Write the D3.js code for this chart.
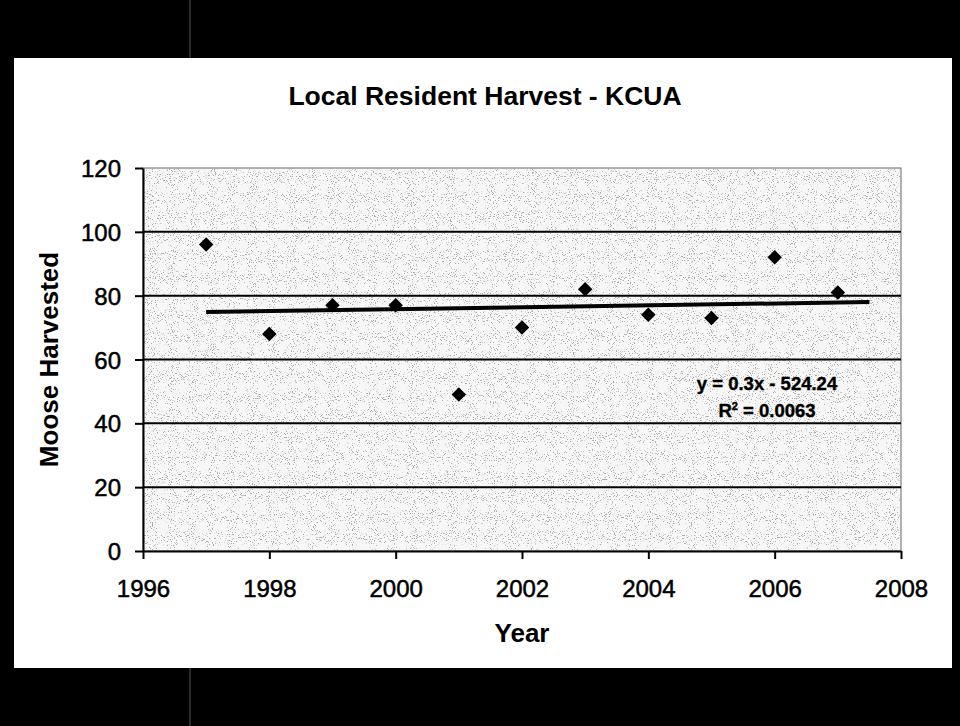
<!DOCTYPE html>
<meta charset="utf-8">
<style>
    body { margin: 0; background: #000; }
    .axis text { font: 24px "Liberation Sans", Arial, sans-serif; fill: #000; stroke: #000; stroke-width: 0.5px; }
    .axis path, .axis line { stroke: #000; stroke-width: 2px; }
    .grid line { stroke: #000; stroke-width: 2px; }
    .title { font: bold 26.5px "Liberation Sans", Arial, sans-serif; }
    .axis-title { font: bold 26px "Liberation Sans", Arial, sans-serif; }
    .eq { font: bold 18.5px "Liberation Sans", Arial, sans-serif; stroke: #000; stroke-width: 0.4px; }
</style>
<body>
<script src="https://cdn.jsdelivr.net/npm/d3@7"></script>
<script>
    // data
    var years = [1997, 1998, 1999, 2000, 2001, 2002, 2003, 2004, 2005, 2006, 2007];
    var harvested = [96, 68, 77, 77, 49, 70, 82, 74, 73, 92, 81];
    var xTicks = [1996, 1998, 2000, 2002, 2004, 2006, 2008];
    var yTicks = [0, 20, 40, 60, 80, 100, 120];
    // linear trendline, as printed on the chart
    var trendSlope = 0.3, trendIntercept = -524.24;
    var trendYears = [1997, 2007.5];
    var eqLine1 = "y = 0.3x - 524.24";
    var r2Value = "0.0063";

    var W = 960, H = 726;
    var margin = {top: 168, right: 59, bottom: 175, left: 143},
        width = W - margin.left - margin.right,
        height = H - margin.top - margin.bottom;

    var svg = d3.select("body").append("svg")
        .attr("width", W)
        .attr("height", H);

    // speckled grey fill like the scanned original
    var defs = svg.append("defs");
    var f = defs.append("filter").attr("id", "speckle")
        .attr("x", 0).attr("y", 0).attr("width", 1).attr("height", 1);
    f.append("feTurbulence")
        .attr("type", "fractalNoise")
        .attr("baseFrequency", 0.95)
        .attr("numOctaves", 2)
        .attr("seed", 7);
    f.append("feColorMatrix")
        .attr("type", "matrix")
        .attr("values", "0 0 0 0 0.4  0 0 0 0 0.4  0 0 0 0 0.4  -9 0 0 0 3.55");

    // black page + white panel
    svg.append("rect").attr("width", W).attr("height", H).attr("fill", "#000");
    svg.append("rect")
        .attr("x", 14).attr("y", 58)
        .attr("width", 938).attr("height", 610)
        .attr("fill", "#fff");
    // faint scanner streak
    svg.append("line").attr("x1", 190).attr("x2", 190).attr("y1", 0).attr("y2", 58)
        .attr("stroke", "#555").attr("stroke-width", 1);
    svg.append("line").attr("x1", 190).attr("x2", 190).attr("y1", 668).attr("y2", H)
        .attr("stroke", "#555").attr("stroke-width", 1);

    var g = svg.append("g")
        .attr("transform", "translate(" + margin.left + "," + margin.top + ")");

    var x = d3.scaleLinear().domain([1996, 2008]).range([0, width]);
    var y = d3.scaleLinear().domain([0, 120]).range([height, 0]);

    // plot area
    g.append("rect")
        .attr("width", width).attr("height", height)
        .attr("fill", "#f7f7f7")
        .attr("stroke", "#666").attr("stroke-width", 1);
    g.append("rect")
        .attr("width", width).attr("height", height)
        .attr("filter", "url(#speckle)");

    // gridlines
    g.append("g").attr("class", "grid")
        .selectAll("line")
        .data(yTicks.filter(function(d) { return d > 0 && d < 120; }))
        .enter().append("line")
        .attr("x1", 0).attr("x2", width)
        .attr("y1", function(d) { return y(d); })
        .attr("y2", function(d) { return y(d); });

    // axes
    g.append("g")
        .attr("class", "axis")
        .attr("transform", "translate(0," + height + ")")
        .call(d3.axisBottom(x).tickValues(xTicks).tickFormat(d3.format("d"))
            .tickSize(8).tickSizeOuter(0).tickPadding(21));

    g.append("g")
        .attr("class", "axis")
        .call(d3.axisLeft(y).tickValues(yTicks).tickFormat(d3.format("d"))
            .tickSize(8).tickSizeOuter(0).tickPadding(14))
        .selectAll("text").attr("dy", "0.36em");

    // trendline
    var trend = d3.line()
        .x(function(d) { return x(d); })
        .y(function(d) { return y(trendSlope * d + trendIntercept); });
    g.append("path")
        .datum(trendYears)
        .attr("fill", "none")
        .attr("stroke", "#000")
        .attr("stroke-width", 4)
        .attr("d", trend);

    // markers
    var diamond = d3.symbol().type(d3.symbolSquare).size(105);
    g.selectAll(".pt")
        .data(years)
        .enter().append("path")
        .attr("class", "pt")
        .attr("d", diamond)
        .attr("fill", "#000")
        .attr("transform", function(d, i) {
            return "translate(" + x(d) + "," + y(harvested[i]) + ") rotate(45)";
        });

    // trendline label
    g.append("text")
        .attr("class", "eq")
        .attr("x", 624).attr("y", 222)
        .style("text-anchor", "middle")
        .text(eqLine1);
    var r2 = g.append("text")
        .attr("class", "eq")
        .attr("x", 624).attr("y", 249)
        .style("text-anchor", "middle");
    r2.append("tspan").text("R");
    r2.append("tspan").attr("dy", -7).style("font-size", "11px").text("2");
    r2.append("tspan").attr("dy", 7).text(" = " + r2Value);

    // title
    svg.append("text")
        .attr("class", "title")
        .attr("x", 485).attr("y", 105)
        .style("text-anchor", "middle")
        .text("Local Resident Harvest - KCUA");

    // axis titles
    svg.append("text")
        .attr("class", "axis-title")
        .attr("x", 522).attr("y", 642)
        .style("text-anchor", "middle")
        .text("Year");

    svg.append("text")
        .attr("class", "axis-title")
        .attr("transform", "translate(58," + (margin.top + height / 2) + ") rotate(-90)")
        .style("text-anchor", "middle")
        .text("Moose Harvested");
</script>
</body>
